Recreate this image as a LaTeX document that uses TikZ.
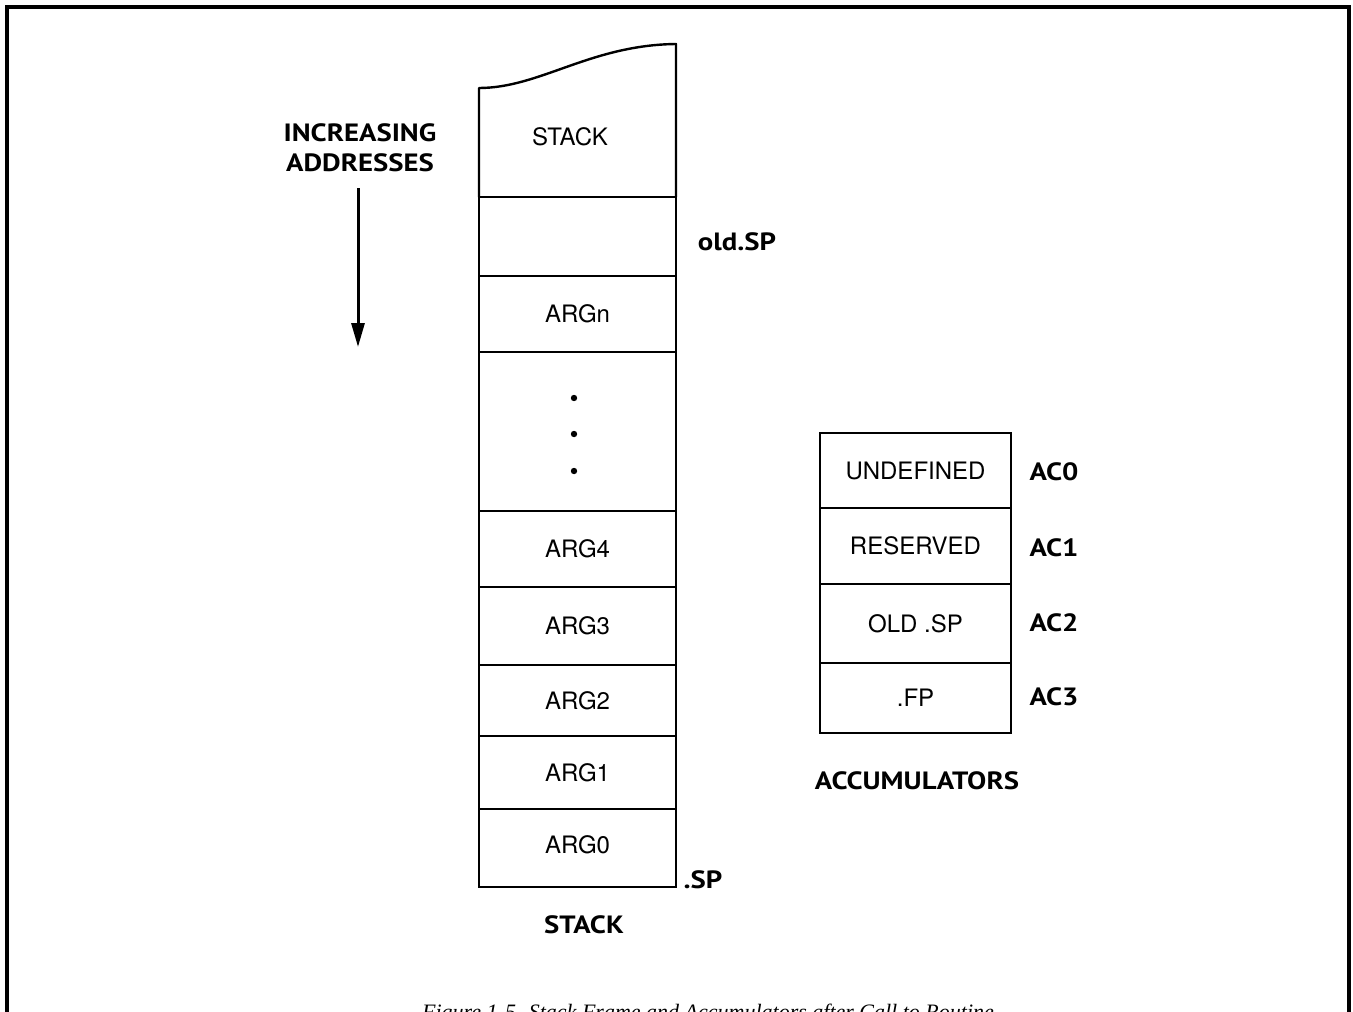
\documentclass[tikz,border=0pt]{standalone}
\usepackage{fontspec}
\setsansfont{TeX Gyre Heros}
\setmainfont{Liberation Serif}
\newfontfamily\labfont{PT Sans}[FakeStretch=1.15]
\usetikzlibrary{arrows.meta}
\begin{document}
\begin{tikzpicture}[x=1pt,y=-1pt,
  cell/.style={draw, line width=2.4pt, inner sep=0pt, font=\fontsize{24}{26}\sffamily},
  stk/.style={cell, minimum width=197pt},
  acc/.style={cell, minimum width=191pt},
  blab/.style={inner sep=0pt, font=\fontsize{25}{27}\labfont\bfseries},
  frame/.style={line width=3.4pt}]
\useasboundingbox (0,0) rectangle (1353,1012);
% outer frame
\draw[frame] (7,1030) -- (7,7) -- (1349,7) -- (1349,1030);
% stack top (wavy)
\draw[line width=2.4pt, line join=round] (479,197) -- (479,88) .. controls (540,88) and (590,45) .. (676,44) -- (676,197);
\node[inner sep=0pt, font=\fontsize{24}{26}\sffamily] (stacktop) at (570,137) {STACK};
% stack cells
\node[stk, minimum height=79pt] (old) at (577.5,236.5) {};
\node[stk, minimum height=76pt] (argn) at (577.5,314) {ARGn};
\node[stk, minimum height=159pt] (dots) at (577.5,431.5) {};
\fill (574,398) circle (3.2) (574,434) circle (3.2) (574,471) circle (3.2);
\node[stk, minimum height=76pt] (arg4) at (577.5,549) {ARG4};
\node[stk, minimum height=78pt] (arg3) at (577.5,626) {ARG3};
\node[stk, minimum height=71pt] (arg2) at (577.5,700.5) {ARG2};
\node[stk, minimum height=73pt] (arg1) at (577.5,772.5) {ARG1};
\node[stk, minimum height=78pt] (arg0) at (577.5,848) {\raisebox{7pt}{ARG0}};
% stack labels
\node[blab] (oldsp) at (737,242) {old.SP};
\node[blab] (sp) at (703,880) {.SP};
\node[blab] (stacklab) at (584,925) {STACK};
% increasing addresses
\node[blab] (inc) at (360,133) {INCREASING};
\node[blab] (addr) at (360,163) {ADDRESSES};
\coordinate (arrs) at (358,188);
\coordinate (arre) at (358,347);
\draw[line width=3pt, -{Triangle[length=24pt, width=13pt]}] (arrs) -- (arre);
% accumulators
\node[acc, minimum height=75pt] (ac0) at (915.5,470.5) {UNDEFINED};
\node[acc, minimum height=76pt] (ac1) at (915.5,546) {RESERVED};
\node[acc, minimum height=79pt] (ac2) at (915.5,623.5) {OLD .SP};
\node[acc, minimum height=70pt] (ac3) at (915.5,698) {.FP};
\node[blab] (l0) at (1054,472) {AC0};
\node[blab] (l1) at (1054,548) {AC1};
\node[blab] (l2) at (1054,623) {AC2};
\node[blab] (l3) at (1054,697) {AC3};
\node[blab] (acclab) at (917,781) {ACCUMULATORS};
% caption (cut by the page edge, as in the reference)
\node[inner sep=0pt, anchor=base, font=\fontsize{22}{24}\rmfamily\itshape] (cap) at (708,1019) {Figure 1-5. Stack Frame and Accumulators after Call to Routine};
\end{tikzpicture}
\end{document}
